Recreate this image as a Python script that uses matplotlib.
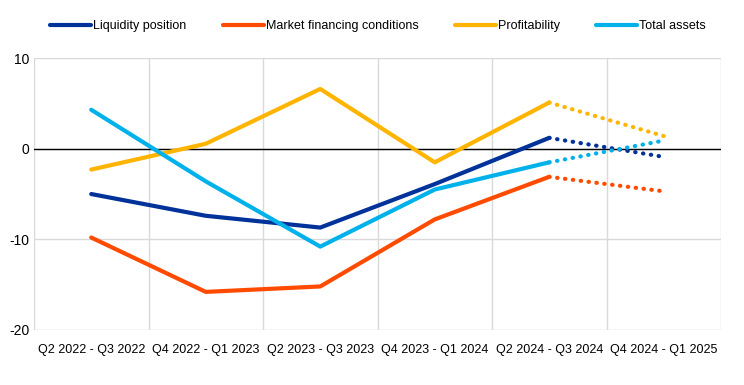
import numpy as np
import matplotlib.pyplot as plt

plt.rcParams['font.family'] = ['Liberation Sans', 'DejaVu Sans']
plt.rcParams['axes.unicode_minus'] = False

periods = ["Q2 2022 - Q3 2022", "Q4 2022 - Q1 2023", "Q2 2023 - Q3 2023",
           "Q4 2023 - Q1 2024", "Q2 2024 - Q3 2024", "Q4 2024 - Q1 2025"]
liquidity = [-5.0, -7.4, -8.7, -3.9, 1.2, -0.9]
market = [-9.8, -15.8, -15.2, -7.8, -3.1, -4.7]
profitability = [-2.3, 0.55, 6.6, -1.5, 5.1, 1.4]
total_assets = [4.3, -3.6, -10.8, -4.5, -1.5, 0.9]

series = [
    ("Liquidity position", liquidity, "#003299"),
    ("Market financing conditions", market, "#ff4b00"),
    ("Profitability", profitability, "#ffb400"),
    ("Total assets", total_assets, "#00b1ea"),
]

fig = plt.figure(figsize=(7.44, 3.85), dpi=100)
ax = fig.add_axes([0.0457, 0.143, 0.9234, 0.706])

x = np.arange(len(periods))
for name, vals, col in series:
    # observed part solid, last step (expectations) dotted
    ax.plot(x[:5], vals[:5], color=col, lw=3, label=name, solid_capstyle="round", zorder=3)
    ax.plot(x[4:], vals[4:], color=col, lw=3, linestyle=(0, (0.1, 1.8)),
            dash_capstyle="round", zorder=3)

ax.axhline(0, color="black", lw=1, zorder=2)
ax.set_xlim(-0.5, 5.5)
ax.set_ylim(-20, 10)
ax.set_yticks([-20, -10, 0, 10])
ax.set_xticks(x)
ax.set_xticklabels(periods)
ax.set_xticks(np.arange(-0.5, 6, 1), minor=True)
ax.grid(True, which="minor", axis="x", color="#d9d9d9", lw=1)
ax.grid(True, which="major", axis="y", color="#d9d9d9", lw=1)
ax.tick_params(which="both", length=0, labelsize=9, colors="black")
ax.tick_params(axis="y", labelsize=10)
ax.tick_params(axis="x", pad=10)
for s in ax.spines.values():
    s.set_visible(False)

fig.legend(*ax.get_legend_handles_labels(), loc="center left",
           bbox_to_anchor=(50 / 744, 1 - 26 / 385), ncol=4, frameon=False,
           fontsize=9, handlelength=3.3, handletextpad=0.15, columnspacing=2.9,
           borderaxespad=0, borderpad=0)

fig.savefig("out.png", dpi=100)
